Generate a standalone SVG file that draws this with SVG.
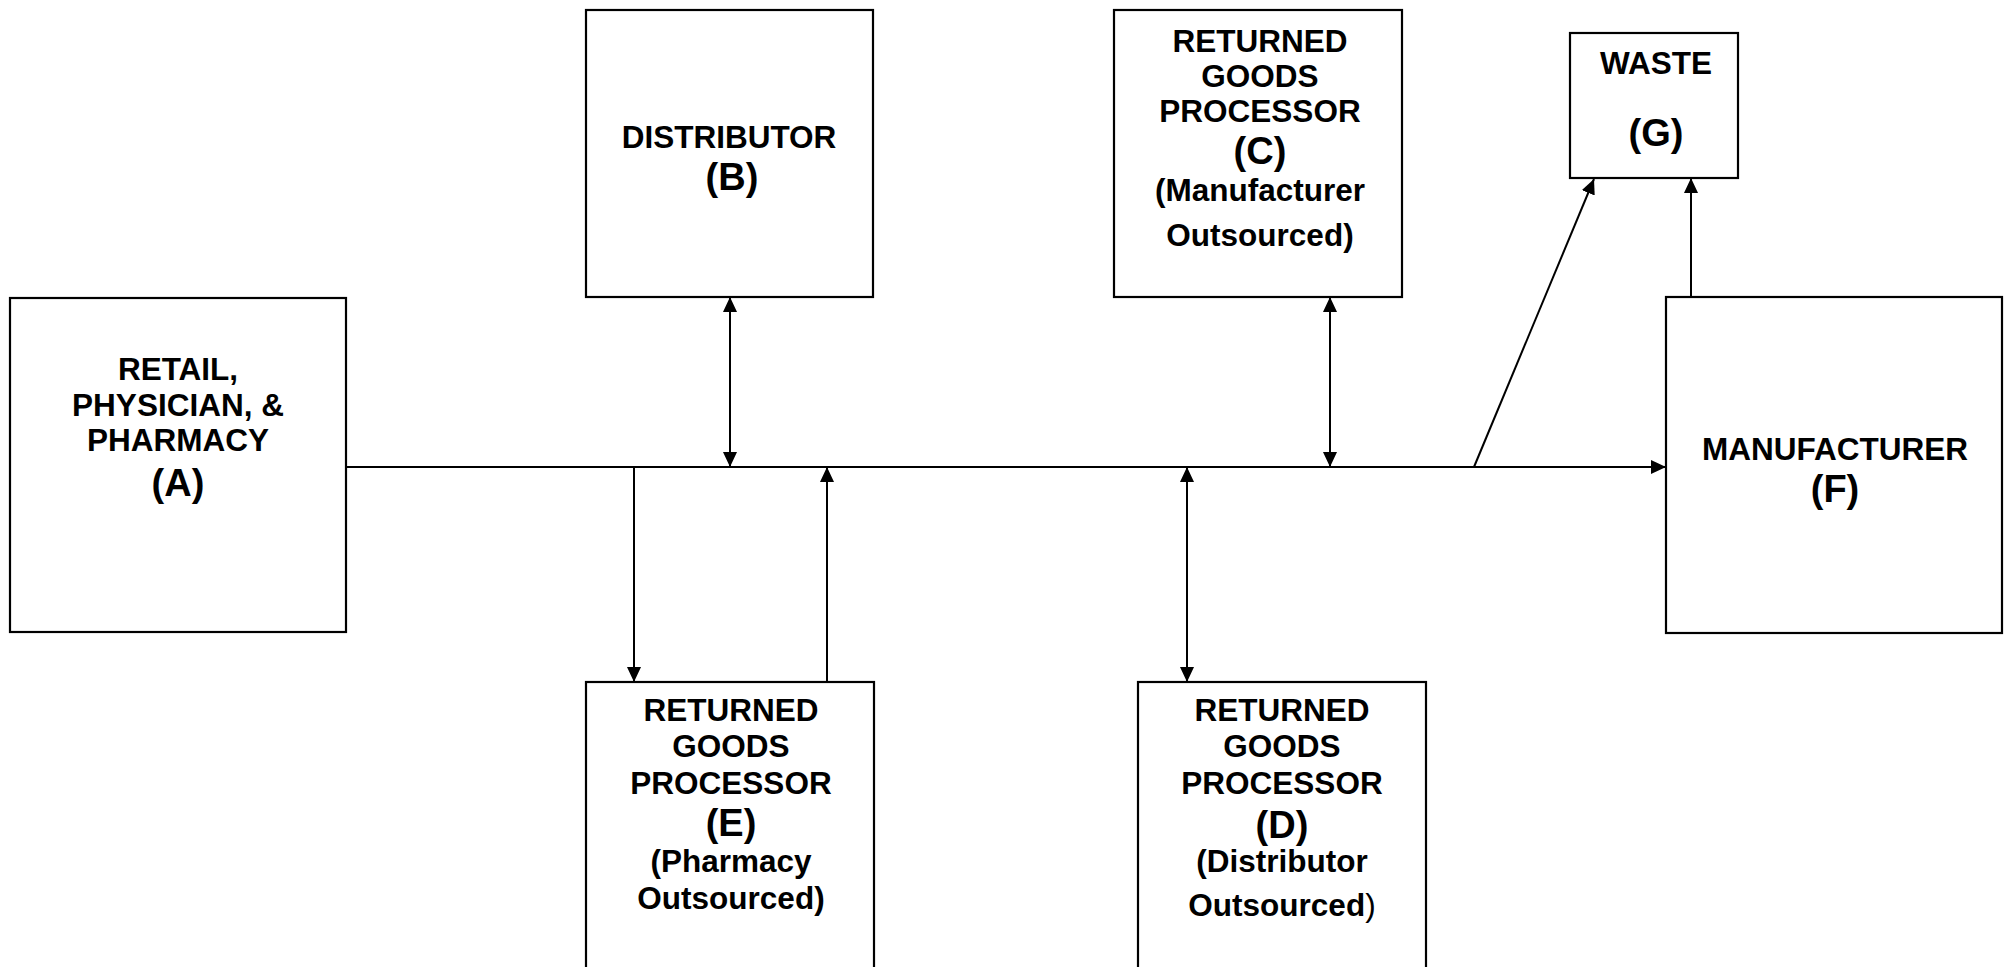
<svg xmlns="http://www.w3.org/2000/svg" width="2005" height="967" viewBox="0 0 2005 967">
<style>
.box{fill:#fff;stroke:#000;stroke-width:2.2}
.t{font-family:"Liberation Sans",Arial,sans-serif;font-weight:bold;font-size:31.5px;text-anchor:middle;fill:#000}
.l{font-size:38px}
.c{fill:none;stroke:#000;stroke-width:2}
</style>
<defs>
<marker id="ah" markerUnits="userSpaceOnUse" markerWidth="16" markerHeight="15" refX="15" refY="7" orient="auto-start-reverse" viewBox="0 0 16 15">
<path d="M0,0 L15,7 L0,14 z" fill="#000"/>
</marker>
</defs>
<rect width="2005" height="967" fill="#fff"/>
<g id="connectors">
<path class="c" d="M346,467 H1666" marker-end="url(#ah)"/>
<path class="c" d="M730,297 V467" marker-start="url(#ah)" marker-end="url(#ah)"/>
<path class="c" d="M1330,297 V467" marker-start="url(#ah)" marker-end="url(#ah)"/>
<path class="c" d="M1187,467 V682" marker-start="url(#ah)" marker-end="url(#ah)"/>
<path class="c" d="M634,467 V682" marker-end="url(#ah)"/>
<path class="c" d="M827,682 V467" marker-end="url(#ah)"/>
<path class="c" d="M1691,297 V178" marker-end="url(#ah)"/>
<path class="c" d="M1474,467 L1594,179" marker-end="url(#ah)"/>
</g>
<g id="nodeA">
<rect class="box" x="10" y="298" width="336" height="334"/>
<text class="t" x="178" y="380">RETAIL,</text>
<text class="t" x="178" y="416">PHYSICIAN, &amp;</text>
<text class="t" x="178" y="451">PHARMACY</text>
<text class="t l" x="178" y="496">(A)</text>
</g>
<g id="nodeB">
<rect class="box" x="586" y="10" width="287" height="287"/>
<text class="t" x="729" y="148">DISTRIBUTOR</text>
<text class="t l" x="732" y="190">(B)</text>
</g>
<g id="nodeC">
<rect class="box" x="1114" y="10" width="288" height="287"/>
<text class="t" x="1260" y="52">RETURNED</text>
<text class="t" x="1260" y="87">GOODS</text>
<text class="t" x="1260" y="122">PROCESSOR</text>
<text class="t l" x="1260" y="164">(C)</text>
<text class="t" x="1260" y="201">(Manufacturer</text>
<text class="t" x="1260" y="246">Outsourced)</text>
</g>
<g id="nodeG">
<rect class="box" x="1570" y="33" width="168" height="145"/>
<text class="t" x="1656" y="74">WASTE</text>
<text class="t l" x="1656" y="146">(G)</text>
</g>
<g id="nodeF">
<rect class="box" x="1666" y="297" width="336" height="336"/>
<text class="t" x="1835" y="460">MANUFACTURER</text>
<text class="t l" x="1835" y="502">(F)</text>
</g>
<g id="nodeE">
<rect class="box" x="586" y="682" width="288" height="300"/>
<text class="t" x="731" y="721">RETURNED</text>
<text class="t" x="731" y="757">GOODS</text>
<text class="t" x="731" y="794">PROCESSOR</text>
<text class="t l" x="731" y="836">(E)</text>
<text class="t" x="731" y="872">(Pharmacy</text>
<text class="t" x="731" y="909">Outsourced)</text>
</g>
<g id="nodeD">
<rect class="box" x="1138" y="682" width="288" height="300"/>
<text class="t" x="1282" y="721">RETURNED</text>
<text class="t" x="1282" y="757">GOODS</text>
<text class="t" x="1282" y="794">PROCESSOR</text>
<text class="t l" x="1282" y="838">(D)</text>
<text class="t" x="1282" y="872">(Distributor</text>
<text class="t" x="1282" y="916">Outsourced<tspan font-weight="normal">)</tspan></text>
</g>
</svg>
